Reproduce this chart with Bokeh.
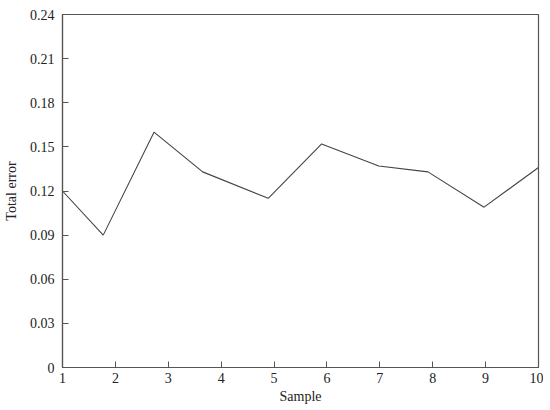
from bokeh.plotting import figure
from bokeh.models import Range1d, FixedTicker
from bokeh.embed import file_html
from bokeh.resources import INLINE

sample_x = [1.0, 1.77, 2.73, 3.65, 4.89, 5.90, 6.98, 7.91, 8.97, 10.0]
total_error = [0.120, 0.090, 0.160, 0.133, 0.115, 0.152, 0.137, 0.133, 0.109, 0.136]
x_ticks = [1, 2, 3, 4, 5, 6, 7, 8, 9, 10]
y_ticks = [0, 0.03, 0.06, 0.09, 0.12, 0.15, 0.18, 0.21, 0.24]
y_tick_labels = ["0", "0.03", "0.06", "0.09", "0.12", "0.15", "0.18", "0.21", "0.24"]

FONT = "Liberation Serif"
AX = "#555555"

p = figure(output_backend="svg", toolbar_location=None,
           frame_width=476, frame_height=353,
           x_range=Range1d(1, 10), y_range=Range1d(0, 0.24),
           min_border_left=58, min_border_top=14, min_border_right=5, min_border_bottom=34)
p.line(sample_x, total_error, line_color="#444444", line_width=1.1)

p.xgrid.visible = False
p.ygrid.visible = False
p.outline_line_color = AX
p.outline_line_width = 1.2

for ax in (p.xaxis[0], p.yaxis[0]):
    ax.axis_line_color = AX
    ax.axis_line_width = 1.2
    ax.major_tick_line_color = AX
    ax.major_tick_in = 6
    ax.major_tick_out = 0
    ax.minor_tick_line_color = None
    ax.major_label_text_font = FONT
    ax.major_label_text_font_size = "14px"
    ax.major_label_text_color = "#222222"
    ax.axis_label_text_font = FONT
    ax.axis_label_text_font_size = "14px"
    ax.axis_label_text_font_style = "normal"
    ax.axis_label_text_color = "#222222"

p.xaxis[0].ticker = FixedTicker(ticks=x_ticks)
p.yaxis[0].ticker = FixedTicker(ticks=y_ticks)
p.yaxis[0].major_label_overrides = {t: l for t, l in zip(y_ticks, y_tick_labels)}
p.xaxis[0].major_label_overrides = {t: str(t) for t in x_ticks}
p.xaxis[0].axis_label = "Sample"
p.yaxis[0].axis_label = "Total error"
p.xaxis[0].major_label_standoff = 5
p.xaxis[0].axis_label_standoff = 3
p.yaxis[0].major_label_standoff = 8
p.yaxis[0].axis_label_standoff = 8

open("out.html", "w").write(file_html(p, INLINE))
